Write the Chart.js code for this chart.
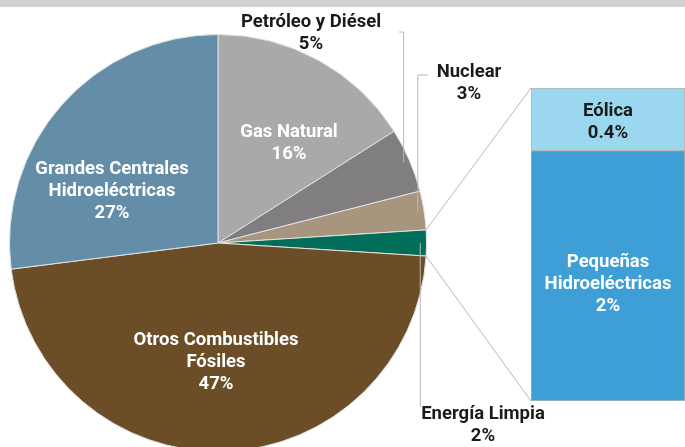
<!DOCTYPE html>
<html>
<head>
<meta charset="utf-8">
<script src="https://cdn.jsdelivr.net/npm/chart.js@4.4.1/dist/chart.umd.min.js"></script>
<style>
    html, body { margin: 0; padding: 0; background: #fff; overflow: hidden; }
    #wrap { position: relative; width: 685px; height: 447px; overflow: hidden; }
    #band { position: absolute; left: 0; top: 0; width: 685px; height: 7px; background: #d1d2d4; }
    #pie { position: absolute; left: 0; top: 0; }
    #bar { position: absolute; left: 531px; top: 88px; }
</style>
</head>
<body>
<div id="wrap">
    <canvas id="pie" width="685" height="470"></canvas>
    <canvas id="bar" width="154" height="313"></canvas>
    <div id="band"></div>
</div>
<script>
// pie slices, clockwise from 12 o'clock
const sources = ["Gas Natural", "Petróleo y Diésel", "Nuclear", "Energía Limpia", "Otros Combustibles Fósiles", "Grandes Centrales Hidroeléctricas"];
const shares = [16, 5, 3, 2, 47, 27];
const shareLabels = ["16%", "5%", "3%", "2%", "47%", "27%"];

// breakdown of "Energía Limpia"
const cleanSources = ["Pequeñas Hidroeléctricas", "Eólica"];
const cleanShares = [1.6, 0.4];
const cleanLabels = ["2%", "0.4%"];

const pieColors = ["#a9a9ab", "#817e81", "#a8957e", "#006e58", "#6b4e28", "#648da8"];
const barColors = ["#3d9fd6", "#9bd8ef"];
const FONT = "bold 18.5px Roboto, 'DejaVu Sans', sans-serif";
const LINE = 22;
const DARK = "#1b1b1b";

// label layout: inside labels are offsets from the pie centre,
// outside labels carry a leader line from the slice
const pieLabelStyle = [
    { lines: ["Gas Natural"], dx: 71, dy: -111, color: "#fff" },
    { lines: ["Petróleo y Diésel"], dx: 93, dy: -221, color: DARK, leader: { y: -211, x: 181 } },
    { lines: ["Nuclear"], dx: 251, dy: -171, color: DARK, leader: { y: -168, x: 210 } },
    { lines: ["Energía Limpia"], dx: 265, dy: 171, color: DARK, leader: { y: 164 } },
    { lines: ["Otros Combustibles", "Fósiles"], dx: -2, dy: 97, color: "#fff" },
    { lines: ["Grandes Centrales", "Hidroeléctricas"], dx: -106, dy: -74, color: "#fff" }
];
const barLabelStyle = [
    { lines: ["Pequeñas", "Hidroeléctricas"], dy: 9, color: "#fff" },
    { lines: ["Eólica"], dy: 3, color: DARK }
];

function drawBlock(ctx, lines, x, y, color) {
    ctx.save();
    ctx.font = FONT;
    ctx.fillStyle = color;
    ctx.textAlign = "center";
    ctx.textBaseline = "middle";
    lines.forEach((t, i) => ctx.fillText(t, x, y + i * LINE));
    ctx.restore();
}

const barChart = new Chart(document.getElementById("bar"), {
    type: "bar",
    data: {
        labels: ["Energía Limpia"],
        datasets: cleanSources.map((name, i) => ({
            label: name,
            data: [cleanShares[i]],
            backgroundColor: barColors[i],
            borderColor: "#b5b5b5",
            borderWidth: 1,
            borderSkipped: false,
            barPercentage: 1,
            categoryPercentage: 1
        }))
    },
    options: {
        responsive: false,
        animation: false,
        layout: { padding: 0 },
        plugins: { legend: { display: false }, tooltip: { enabled: false } },
        scales: {
            x: { display: false, stacked: true },
            y: { display: false, stacked: true, min: 0, max: cleanShares.reduce((a, b) => a + b, 0) }
        }
    },
    plugins: [{
        id: "barText",
        afterDatasetsDraw(chart) {
            const ctx = chart.ctx;
            chart.data.datasets.forEach((ds, i) => {
                const el = chart.getDatasetMeta(i).data[0];
                const st = barLabelStyle[i];
                const cy = (el.y + el.base) / 2;
                const lines = st.lines.concat([cleanLabels[i]]);
                const top = cy + st.dy - (lines.length - 1) * LINE / 2;
                drawBlock(ctx, lines, el.x, top, st.color);
            });
        }
    }]
});

new Chart(document.getElementById("pie"), {
    type: "pie",
    data: {
        labels: sources,
        datasets: [{
            data: shares,
            backgroundColor: pieColors,
            borderColor: "#e2e2e2",
            borderWidth: 1
        }]
    },
    options: {
        responsive: false,
        animation: false,
        layout: { padding: { left: 9, top: 34, right: 258, bottom: 18 } },
        plugins: { legend: { display: false }, tooltip: { enabled: false } }
    },
    plugins: [{
        id: "pieText",
        afterDatasetsDraw(chart) {
            const ctx = chart.ctx;
            const arcs = chart.getDatasetMeta(0).data;
            const cx = arcs[0].x, cy = arcs[0].y;
            ctx.save();
            ctx.strokeStyle = "#b8b8b8";
            ctx.lineWidth = 1;

            // lines from the clean energy slice to the breakdown bar
            const clean = arcs[3];
            const r = clean.outerRadius;
            const barCanvas = barChart.canvas;
            const bx = barCanvas.offsetLeft, by = barCanvas.offsetTop;
            const topEl = barChart.getDatasetMeta(1).data[0];
            const botEl = barChart.getDatasetMeta(0).data[0];
            const barLeft = bx + topEl.x - topEl.width / 2;
            [[clean.startAngle, by + topEl.y], [clean.endAngle, by + botEl.base]].forEach(([a, yb]) => {
                ctx.beginPath();
                ctx.moveTo(cx + r * Math.cos(a), cy + r * Math.sin(a));
                ctx.lineTo(barLeft, yb);
                ctx.stroke();
            });

            arcs.forEach((arc, i) => {
                const st = pieLabelStyle[i];
                const lines = st.lines.concat([shareLabels[i]]);
                const lx = cx + st.dx, ly = cy + st.dy;
                if (st.leader) {
                    const mid = (arc.startAngle + arc.endAngle) / 2;
                    const ax = cx + arc.outerRadius * 0.97 * Math.cos(mid);
                    const ay = cy + arc.outerRadius * 0.97 * Math.sin(mid);
                    ctx.beginPath();
                    ctx.moveTo(ax, ay);
                    ctx.lineTo(ax, cy + st.leader.y);
                    if (st.leader.x !== undefined) ctx.lineTo(cx + st.leader.x, cy + st.leader.y);
                    ctx.stroke();
                }
                drawBlock(ctx, lines, lx, ly, st.color);
            });
            ctx.restore();
        }
    }]
});
</script>
</body>
</html>
